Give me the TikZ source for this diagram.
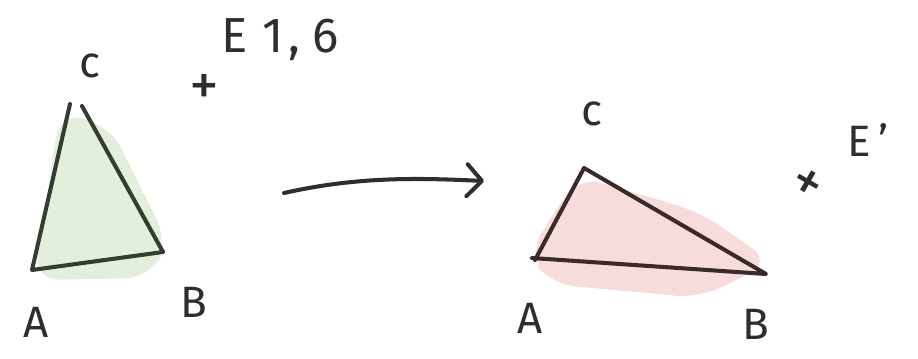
\documentclass[tikz,border=0pt]{standalone}
\usepackage{fontspec}
\setmainfont{Fira Sans}
\usepackage{xcolor}
\usetikzlibrary{arrows.meta,bending}
\definecolor{leafgreen}{HTML}{E3EEDB}
\definecolor{rosepink}{HTML}{F7DCDC}
\definecolor{inkgreen}{HTML}{333D30}
\definecolor{inkbrown}{HTML}{3B2A2A}
\definecolor{inkgray}{HTML}{2E2E2E}
\tikzset{
  sketchln/.style = {line width=2.3pt, line cap=round, line join=round},
  blobfill/.style = {rounded corners=14pt},
  hand/.style     = {font=\fontsize{25}{28}\selectfont, text=inkgray, inner sep=1pt},
  markx/.style    = {font=\fontsize{34}{36}\selectfont, text=inkgray, inner sep=0pt},
  maparr/.style   = {-{Straight Barb[length=3mm,width=6.4mm,bend,round]}, line width=2.3pt, inkgray, line cap=round}
}

\begin{document}
\begin{tikzpicture}[x=0.02cm,y=-0.02cm]
  \useasboundingbox (0,0) rectangle (918,358);
  % left triangle
  \fill[leafgreen,blobfill] (34,280) -- (60,112) -- (110,126) -- (168,242) -- (150,278) -- cycle;
  \coordinate (lA) at (32,270);
  \coordinate (lB) at (163,252);
  \coordinate (lCl) at (70,104);
  \coordinate (lCr) at (82,106);
  \draw[sketchln,inkgreen] (lCl) -- (lA) -- (lB) -- (lCr);
  \node[hand] (lblCl) at (90,66) {c};
  \node[hand] (lblAl) at (36,322) {A};
  \node[hand] (lblBl) at (194,302) {B};
  \node[hand,font=\fontsize{28}{30}\selectfont] (elib) at (280,40) {E\hspace{0.3em}1\hspace{0.1em},\hspace{0.25em}6};
  \node[markx] (crossl) at (204,90) {+};
  % the map
  \coordinate (arrS) at (284,193);
  \coordinate (arrE) at (484,181);
  \draw[maparr] (arrS) .. controls (360,176) and (420,178) .. (arrE);
  % right triangle
  \fill[rosepink,blobfill] (528,254) -- (578,176) -- (700,212) -- (772,262) -- (700,298) -- (550,284) -- cycle;
  \coordinate (rA) at (535,260);
  \coordinate (rB) at (766,274);
  \coordinate (rC) at (584,168);
  \coordinate (rA0) at (532,258);
  \draw[sketchln,inkbrown] (rA) -- (rC) -- (rB) -- (rA0);
  \node[hand] (lblCr) at (592,114) {c};
  \node[hand] (lblAr) at (530,318) {A};
  \node[hand] (lblBr) at (756,324) {B};
  \node[markx,rotate=-30] (crossr) at (806,186) {+};
  \node[hand] (eprime) at (868,140) {E\,'};
\end{tikzpicture}
\end{document}
